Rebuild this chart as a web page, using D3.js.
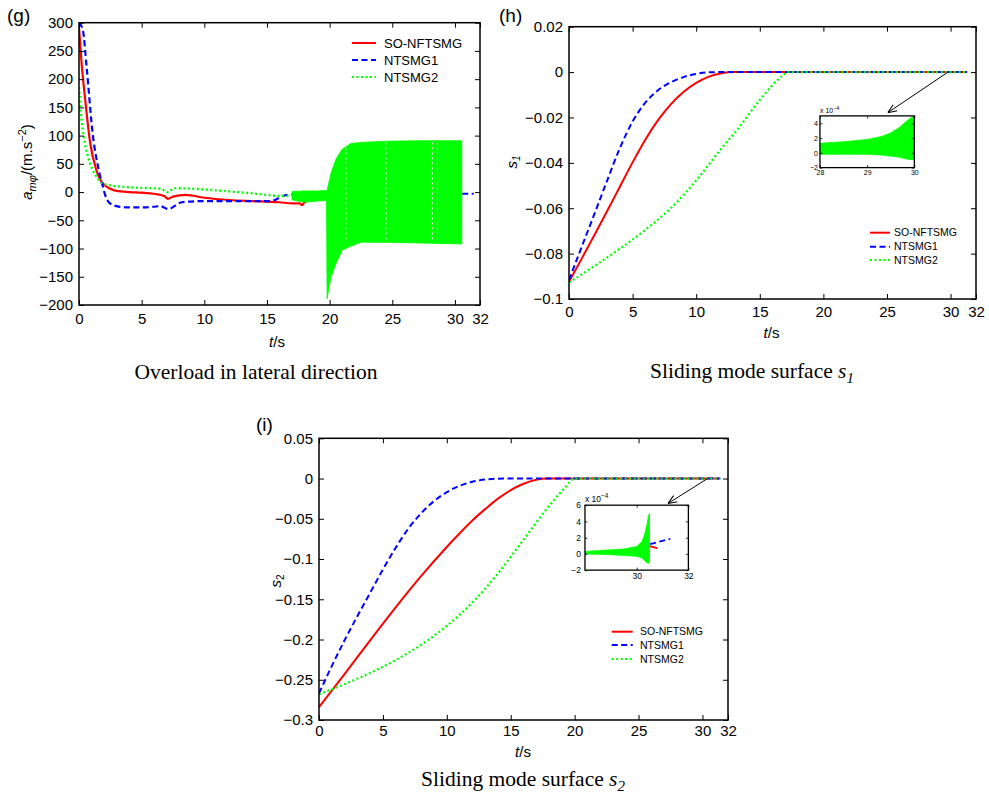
<!DOCTYPE html>
<html><head><meta charset="utf-8">
<script src="https://cdn.jsdelivr.net/npm/d3@7"></script>
<style>body{margin:0;background:#fff}</style>
</head><body>
<svg id="c" width="989" height="795" xmlns="http://www.w3.org/2000/svg"></svg>
<script>
// ---------- DATA ----------
const X_TICKS = [0, 5, 10, 15, 20, 25, 30, 32];
const G_YTICKS = [-200, -150, -100, -50, 0, 50, 100, 150, 200, 250, 300];
const H_YTICKS = [-0.1, -0.08, -0.06, -0.04, -0.02, 0, 0.02];
const I_YTICKS = [-0.3, -0.25, -0.2, -0.15, -0.1, -0.05, 0, 0.05];
const SERIES = ["SO-NFTSMG", "NTSMG1", "NTSMG2"];

// (g) overload in lateral direction
const gRedT = [0, 0.2, 0.5, 0.9, 1.4, 1.8, 2.5, 3, 4, 5, 6, 6.8, 7.1, 7.5, 8.5, 10, 12, 14, 15, 16, 17, 17.6, 17.8, 18, 19, 20, 25, 30.5];
const gRedV = [292, 230, 163, 86, 38, 18, 6, 2, 0, -1, -3, -7, -12, -8, -5, -10, -14, -16, -17, -18, -20, -20, -23, -18, -10, -5, -3, -3];
const gBlueT = [0, 0.3, 0.61, 1.09, 1.63, 1.89, 2.1, 2.48, 3, 3.8, 5.4, 6.5, 7.1, 8.2, 9.8, 13.8, 15.3, 16.4, 17.7, 20, 25, 30, 31.5];
const gBlueV = [300, 288, 221, 104, 34, 11, -6, -20, -25, -27, -27, -25, -30, -18, -16, -16, -16, -6, -3, -2, -2, -3, -3];
const gGreenT = [0, 0.13, 0.48, 0.88, 1.41, 1.89, 2.5, 4.4, 6.5, 7.1, 7.6, 9.7, 13.7, 16.3, 17.0];
const gGreenV = [186, 145, 86, 51, 27, 15, 12, 8, 6, 0, 7, 5, -2, -7, -5];
const gBandT = [17.0, 18.0, 19.0, 19.75, 19.8, 20.1, 20.5, 21.0, 21.7, 22.5, 24.4, 27.0, 30.55];
const gBandHi = [1, 2, 2, 3, 3, 33, 58, 76, 86, 88, 90, 91, 91];
const gBandLo = [-14, -18, -16, -15, -189, -151, -127, -103, -96, -89, -89, -90, -92];
const gBandGapT = [21.3, 24.5, 28.2, 28.6];

// (h) sliding mode surface s1
const hRedT = [0, 1, 2, 3, 4, 5, 6, 7, 8, 9, 10, 11, 12, 13, 31.3];
const hRedV = [-0.0924, -0.0822, -0.0718, -0.0612, -0.0505, -0.0398, -0.0298, -0.0212, -0.0142, -0.0088, -0.0048, -0.002, -0.0005, 0, 0];
const hBlueT = [0, 1, 2, 3, 4, 5, 6, 7, 8, 9, 10, 11, 12, 31.3];
const hBlueV = [-0.0916, -0.077, -0.0625, -0.0478, -0.0335, -0.0218, -0.0135, -0.008, -0.0045, -0.0022, -0.0008, -0.0001, 0, 0];
const hGreenT = [0, 2, 4, 6, 8, 10, 12, 13.2, 15, 16.85, 17.2, 31.3];
const hGreenV = [-0.0927, -0.0855, -0.0778, -0.0695, -0.06, -0.0478, -0.0335, -0.0256, -0.0123, -0.0013, 0, 0];
// inset of (h), values x 1e-4
const hInT = [28, 28.5, 29, 29.3, 29.5, 29.7, 29.8, 29.9, 30];
const hInHi = [1.3, 1.5, 1.8, 2.2, 2.7, 3.5, 4.1, 4.6, 5.0];
const hInLo = [-0.2, -0.2, -0.2, -0.3, -0.45, -0.6, -0.8, -0.9, -0.9];

// (i) sliding mode surface s2
const iRedT = [0, 2, 4, 6, 8, 10, 12, 13, 14, 15, 16, 17, 17.8, 31.3];
const iRedV = [-0.284, -0.243, -0.201, -0.16, -0.121, -0.085, -0.052, -0.038, -0.025, -0.0145, -0.0065, -0.0015, 0, 0];
const iBlueT = [0, 1, 2, 3, 4, 5, 6, 7, 8, 9, 10, 11, 12, 13, 14.5, 31.4];
const iBlueV = [-0.267, -0.233, -0.201, -0.171, -0.142, -0.113, -0.086, -0.062, -0.043, -0.028, -0.017, -0.009, -0.004, -0.0013, 0, 0];
const iGreenT = [0, 2, 4, 6, 8, 10, 12, 14, 16, 18, 19.2, 20, 31.4];
const iGreenV = [-0.268, -0.2555, -0.2415, -0.2255, -0.2065, -0.183, -0.154, -0.118, -0.076, -0.034, -0.012, 0, 0];
// inset of (i), values x 1e-4
const iInT = [28.0, 28.5, 29, 29.5, 30, 30.2, 30.3, 30.4, 30.45, 30.5];
const iInHi = [0.3, 0.4, 0.5, 0.6, 0.9, 1.5, 2.3, 3.6, 4.6, 5.0];
const iInLo = [0, -0.05, -0.1, -0.2, -0.3, -0.5, -0.8, -1.1, -1.15, -1.1];
const iInBlueT = [28, 29, 30, 30.5, 31.3];
const iInBlueV = [0.1, 0.2, 0.5, 1.2, 1.85];
const iInRedT = [30.45, 30.8];
const iInRedV = [1.0, 0.7];

// ---------- STYLE ----------
const COL = ["#ff0000", "#0000ff", "#00ff00"];
const DASH = [null, "6,3.5", "2,2.5"];
const SANS = "'Liberation Sans', Arial, Helvetica, sans-serif";
const SERIF = "'Liberation Serif', 'Times New Roman', serif";

const svg = d3.select("#c");
svg.append("rect").attr("width", 989).attr("height", 795).attr("fill", "#fff");
const defs = svg.append("defs");
defs.append("marker").attr("id", "arr").attr("viewBox", "0 0 10 10")
  .attr("refX", 10).attr("refY", 5).attr("markerWidth", 9).attr("markerHeight", 9)
  .attr("orient", "auto").attr("markerUnits", "userSpaceOnUse")
  .append("path").attr("d", "M0,1 L10,5 L0,9").attr("fill", "none").attr("stroke", "#000").attr("stroke-width", 1.2);

const fmtNum = v => v === 0 ? "0" : (v < 0 ? "\u2212" : "") + Math.abs(v).toString();

let clipId = 0;
function panel(o) {
  const x = d3.scaleLinear().domain(o.xd).range([o.l, o.r]);
  const y = d3.scaleLinear().domain(o.yd).range([o.b, o.t]);
  const g = svg.append("g");
  const id = "clip" + (clipId++);
  defs.append("clipPath").attr("id", id).append("rect")
    .attr("x", o.l).attr("y", o.t).attr("width", o.r - o.l).attr("height", o.b - o.t);
  if (o.bg) g.append("rect").attr("x", o.l).attr("y", o.t).attr("width", o.r - o.l).attr("height", o.b - o.t).attr("fill", "#fff");
  const plot = g.append("g").attr("clip-path", `url(#${id})`);
  const ax = g.append("g");
  const ts = o.tick || 5;
  const style = sel => {
    sel.select(".domain").remove();
    sel.attr("font-family", SANS).attr("font-size", o.fs);
    sel.selectAll("line").attr("stroke", "#000").attr("stroke-width", o.sw || 1);
    sel.selectAll("text").attr("fill", "#000");
  };
  ax.append("g").attr("transform", `translate(0,${o.b})`)
    .call(d3.axisBottom(x).tickValues(o.xt).tickSizeInner(-ts).tickSizeOuter(0).tickPadding(o.padX).tickFormat(fmtNum)).call(style);
  ax.append("g").attr("transform", `translate(0,${o.t})`)
    .call(d3.axisTop(x).tickValues(o.xt).tickSizeInner(-ts).tickSizeOuter(0).tickFormat("")).call(style);
  ax.append("g").attr("transform", `translate(${o.l},0)`)
    .call(d3.axisLeft(y).tickValues(o.yt).tickSizeInner(-ts).tickSizeOuter(0).tickPadding(o.padY).tickFormat(fmtNum)).call(style);
  ax.append("g").attr("transform", `translate(${o.r},0)`)
    .call(d3.axisRight(y).tickValues(o.yt).tickSizeInner(-ts).tickSizeOuter(0).tickFormat("")).call(style);
  ax.append("rect").attr("x", o.l).attr("y", o.t).attr("width", o.r - o.l).attr("height", o.b - o.t)
    .attr("fill", "none").attr("stroke", "#000").attr("stroke-width", o.box || 1.5);
  return { x, y, plot, g };
}

function line(p, T, V, k, w, curve) {
  const ln = d3.line().x(d => p.x(d[0])).y(d => p.y(d[1])).curve(curve || d3.curveMonotoneX);
  const path = p.plot.append("path").datum(d3.zip(T, V)).attr("d", ln)
    .attr("fill", "none").attr("stroke", COL[k]).attr("stroke-width", w || 2);
  if (DASH[k]) path.attr("stroke-dasharray", DASH[k]);
  return path;
}
function band(p, T, Hi, Lo) {
  const ar = d3.area().x(d => p.x(d[0])).y0(d => p.y(d[2])).y1(d => p.y(d[1]));
  p.plot.append("path").datum(d3.zip(T, Hi, Lo)).attr("d", ar).attr("fill", COL[2]).attr("stroke", COL[2]).attr("stroke-width", 0.8);
}
function legend(x0, x1, tx, rows, fs) {
  SERIES.forEach((s, k) => {
    const l = svg.append("line").attr("x1", x0).attr("x2", x1).attr("y1", rows[k]).attr("y2", rows[k])
      .attr("stroke", COL[k]).attr("stroke-width", 2);
    if (DASH[k]) l.attr("stroke-dasharray", DASH[k]);
    svg.append("text").attr("x", tx).attr("y", rows[k]).attr("dy", "0.36em").attr("font-family", SANS)
      .attr("font-size", fs).text(s);
  });
}
function tsLabel(cx, y) {
  const t = svg.append("text").attr("x", cx).attr("y", y).attr("text-anchor", "middle")
    .attr("font-family", SANS).attr("font-size", 15);
  t.append("tspan").attr("font-style", "italic").text("t");
  t.append("tspan").text("/s");
}
function title(cx, y, main, sub) {
  const t = svg.append("text").attr("x", cx).attr("y", y).attr("text-anchor", "middle")
    .attr("font-family", SERIF).attr("font-size", 21.5);
  t.append("tspan").text(main);
  if (sub) {
    t.append("tspan").attr("font-style", "italic").text("s");
    t.append("tspan").attr("font-style", "italic").attr("font-size", 15).attr("dy", 5).text(sub);
  }
}
function tag(x, y, s) {
  svg.append("text").attr("x", x).attr("y", y).attr("font-family", SANS).attr("font-size", 19).text(s);
}
function arrow(p, a, b) {
  svg.append("line").attr("x1", p.x(a[0])).attr("y1", p.y(a[1])).attr("x2", p.x(b[0])).attr("y2", p.y(b[1]))
    .attr("stroke", "#000").attr("stroke-width", 1).attr("marker-end", "url(#arr)");
}
function expLabel(x, y, fs) {
  const t = svg.append("text").attr("x", x).attr("y", y).attr("font-family", SANS).attr("font-size", fs);
  t.append("tspan").text("x 10");
  t.append("tspan").attr("font-size", fs * 0.75).attr("dy", -fs * 0.45).text("\u22124");
}

// ---------- PANEL (g) ----------
const G = panel({ l: 79, r: 480, t: 22.7, b: 305, xd: [0, 32], yd: [-200, 300], xt: X_TICKS, yt: G_YTICKS, padX: 8, padY: 6, fs: 15 });
line(G, gRedT, gRedV, 0, 2.2);
line(G, gBlueT, gBlueV, 1, 2.2);
line(G, gGreenT, gGreenV, 2, 2.4);
band(G, gBandT, gBandHi, gBandLo);
G.plot.selectAll(".gap").data(gBandGapT).join("line").attr("class", "gap")
  .attr("x1", d => G.x(d)).attr("x2", d => G.x(d))
  .attr("y1", G.y(88)).attr("y2", G.y(-88))
  .attr("stroke", "#fff").attr("stroke-width", 1).attr("stroke-dasharray", "2,3");
legend(352, 376, 384, [43, 60, 77], 13);
tsLabel(277, 346.5);
title(256, 379, "Overload in lateral direction");
tag(7, 22, "(g)");
{
  const t = svg.append("text").attr("transform", "translate(32,162) rotate(-90)").attr("text-anchor", "middle")
    .attr("font-family", SANS).attr("font-size", 15);
  t.append("tspan").attr("font-style", "italic").text("a");
  t.append("tspan").attr("font-style", "italic").attr("font-size", 11).attr("dy", 4).text("m\u03c6");
  t.append("tspan").attr("dy", -4).text("/(m.s");
  t.append("tspan").attr("font-size", 11).attr("dy", -6).text("\u22122");
  t.append("tspan").attr("dy", 6).text(")");
}

// ---------- PANEL (h) ----------
const H = panel({ l: 569, r: 976, t: 26.7, b: 299, xd: [0, 32], yd: [-0.1, 0.02], xt: X_TICKS, yt: H_YTICKS, padX: 7.5, padY: 6, fs: 15 });
line(H, hRedT, hRedV, 0, 2);
line(H, hBlueT, hBlueV, 1, 2);
line(H, hGreenT, hGreenV, 2, 2.2);
legend(870, 890, 894, [232.7, 246.7, 260], 10.5);
tsLabel(771.5, 338);
title(752, 378, "Sliding mode surface ", "1");
tag(499, 22, "(h)");
{
  const t = svg.append("text").attr("transform", "translate(517,162) rotate(-90)").attr("text-anchor", "middle")
    .attr("font-family", SANS).attr("font-size", 15);
  t.append("tspan").attr("font-style", "italic").text("s");
  t.append("tspan").attr("font-style", "italic").attr("font-size", 10).attr("dy", 3).text("1");
}
// inset (h)
const HI = panel({ l: H.x(19.73), r: H.x(27.15), t: H.y(-0.0193), b: H.y(-0.0421), xd: [28, 30], yd: [-2, 5], xt: [28, 29, 30], yt: [-2, 0, 2, 4], padX: 2, padY: 2, fs: 7, tick: 2.5, bg: true, box: 1.3, sw: 0.8 });
band(HI, hInT, hInHi, hInLo);
expLabel(HI.x(28), HI.y(5) - 3, 7);
arrow(H, [29.8, 0], [25.06, -0.0179]);

// ---------- PANEL (i) ----------
const I = panel({ l: 319, r: 728, t: 438.3, b: 720, xd: [0, 32], yd: [-0.3, 0.05], xt: X_TICKS, yt: I_YTICKS, padX: 5, padY: 6, fs: 15 });
line(I, iRedT, iRedV, 0, 2);
line(I, iBlueT, iBlueV, 1, 2);
line(I, iGreenT, iGreenV, 2, 2.2);
legend(611.7, 632.7, 640, [631.7, 645, 659], 10.5);
tsLabel(523, 756.5);
title(523, 786, "Sliding mode surface ", "2");
tag(256, 431, "(i)");
{
  const t = svg.append("text").attr("transform", "translate(281,581) rotate(-90)").attr("text-anchor", "middle")
    .attr("font-family", SANS).attr("font-size", 15);
  t.append("tspan").attr("font-style", "italic").text("s");
  t.append("tspan").attr("font-size", 10).attr("dy", 3).text("2");
}
// inset (i)
const II = panel({ l: I.x(20.81), r: I.x(28.9), t: I.y(-0.0331), b: I.y(-0.1138), xd: [28, 32], yd: [-2, 6], xt: [30, 32], yt: [-2, 0, 2, 4, 6], padX: 3, padY: 4, fs: 8.5, tick: 2.5, bg: true, box: 1.3, sw: 0.8 });
line(II, iInRedT, iInRedV, 0, 1.8, d3.curveLinear);
line(II, iInBlueT, iInBlueV, 1, 1.8, d3.curveLinear);
band(II, iInT, iInHi, iInLo);
expLabel(II.x(28), II.y(6) - 3, 8.5);
arrow(I, [30.4, 0], [27.3, -0.031]);
</script>
</body></html>
